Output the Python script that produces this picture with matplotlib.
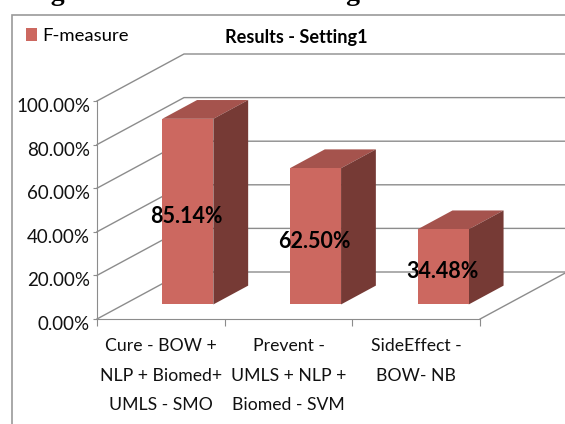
import matplotlib
matplotlib.use('Agg')
import matplotlib.pyplot as plt
from matplotlib.patches import Polygon, Rectangle
from matplotlib.transforms import ScaledTranslation

# Datos de la grafica
categorias = ['Cure - BOW +\nNLP + Biomed+\nUMLS - SMO',
              'Prevent -\nUMLS + NLP +\nBiomed - SVM',
              'SideEffect -\nBOW- NB']
fmeasure = [85.14, 62.50, 34.48]
etiquetas = ['85.14%', '62.50%', '34.48%']
niveles_y = [0, 20, 40, 60, 80, 100]
leyenda = 'F-measure'
titulo = 'Results - Setting1'
caption = 'Figure 5: Results for Setting1'

ROJO = '#CC6860'
ROJO_TOP = '#A5534D'
ROJO_LADO = '#763A35'
GRIS = '#8C8C8C'

plt.rcParams['font.family'] = ['Lato', 'DejaVu Sans']

# pixeles por unidad de cada eje
PX_X = 127.7
PX_Y = 2.18
X0, Y0 = 97, 319
FONDO_X = 87 / PX_X
FONDO_Y = 47 / PX_Y


def proyectar(x, y, d):
    # d = profundidad, 0 delante y 1 en la pared del fondo
    return x + d * FONDO_X, y + d * FONDO_Y


fig = plt.figure(figsize=(5.65, 4.24), dpi=100)
ax = fig.add_axes([0, 0, 1, 1])
ax.set_xlim(-X0 / PX_X, (565 - X0) / PX_X)
ax.set_ylim((Y0 - 424) / PX_Y, Y0 / PX_Y)
ax.patch.set_alpha(0)

# marco exterior del grafico
ax.add_patch(Rectangle((12 / 565, -0.1), 1.1, (424 - 15) / 424 + 0.1, transform=ax.transAxes,
                       fill=False, ec='#9A9A9A', lw=1.2, zorder=0, clip_on=False))

n = len(categorias)

# lineas de la pared y del suelo
for v in niveles_y:
    px, py = proyectar(0, v, 1)
    ax.plot([0, px, proyectar(n + 1, v, 1)[0]], [v, py, py], color=GRIS, lw=1, zorder=1)
ax.plot(*zip(proyectar(n, 0, 0), proyectar(n, 0, 1)), color=GRIS, lw=1, zorder=1)

# barras en 3D
D1, D2 = 0.31, 0.71
ANCHO = 0.40
for i, val in enumerate(fmeasure):
    xc = i + 0.5
    x1, x2 = xc - ANCHO / 2, xc + ANCHO / 2
    fx, fy = proyectar(x1, 0, D1)
    ax.bar(fx, val, ANCHO, bottom=fy, align='edge', color=ROJO, zorder=4,
           label=leyenda if i == 0 else None)
    ax.add_patch(Polygon([proyectar(x1, val, D1), proyectar(x2, val, D1),
                          proyectar(x2, val, D2), proyectar(x1, val, D2)],
                         closed=True, fc=ROJO_TOP, ec='none', zorder=3))
    ax.add_patch(Polygon([proyectar(x2, 0, D1), proyectar(x2, val, D1),
                          proyectar(x2, val, D2), proyectar(x2, 0, D2)],
                         closed=True, fc=ROJO_LADO, ec='none', zorder=3))
    lx, ly = proyectar(xc, val / 2, D1)
    ax.annotate(etiquetas[i], (lx, ly), xytext=(-1, -5), textcoords='offset pixels',
                ha='center', va='center', fontsize=15.5, fontweight='bold', color='black', zorder=6)

# ejes
for lado in ['top', 'right']:
    ax.spines[lado].set_visible(False)
ax.spines['left'].set_position(('data', 0))
ax.spines['left'].set_bounds(0, 100)
ax.spines['bottom'].set_position(('data', 0))
ax.spines['bottom'].set_bounds(0, n)
ax.spines['left'].set_color(GRIS)
ax.spines['bottom'].set_color(GRIS)
ax.set_yticks(niveles_y)
ax.set_yticklabels([f'{v:.2f}%' for v in niveles_y], fontsize=13.5, color='#111111')
ax.tick_params(axis='y', length=3, color=GRIS, pad=2)
for etq in ax.get_yticklabels():
    etq.set_transform(etq.get_transform() + ScaledTranslation(0, -4 / 100, fig.dpi_scale_trans))
ax.set_xticks(range(n + 1))
ax.set_xticklabels([])
ax.tick_params(axis='x', which='major', length=5, color=GRIS)
ax.set_xticks([i + 0.5 for i in range(n)], minor=True)
ax.set_xticklabels(categorias, minor=True, fontsize=12.7, color='#111111', linespacing=2.03)
ax.tick_params(axis='x', which='minor', length=0, pad=14)

ax.annotate(titulo, (296 / 565, 1 - 37 / 424), xycoords='axes fraction', ha='center', va='center',
            fontsize=13.1, fontweight='bold', color='black')
ax.annotate(caption, (26 / 565, 1 + 0.5 / 424), xycoords='axes fraction', ha='left', va='baseline',
            fontsize=20, fontweight='bold', family='Liberation Serif', color='black',
            annotation_clip=False)

ax.legend(loc='upper left', bbox_to_anchor=(26 / 565, 1 - 28 / 424), frameon=False, fontsize=13.3,
          handlelength=0.6, handleheight=0.7, handletextpad=0.3, borderpad=0, borderaxespad=0)

fig.savefig('out.png', dpi=100)
